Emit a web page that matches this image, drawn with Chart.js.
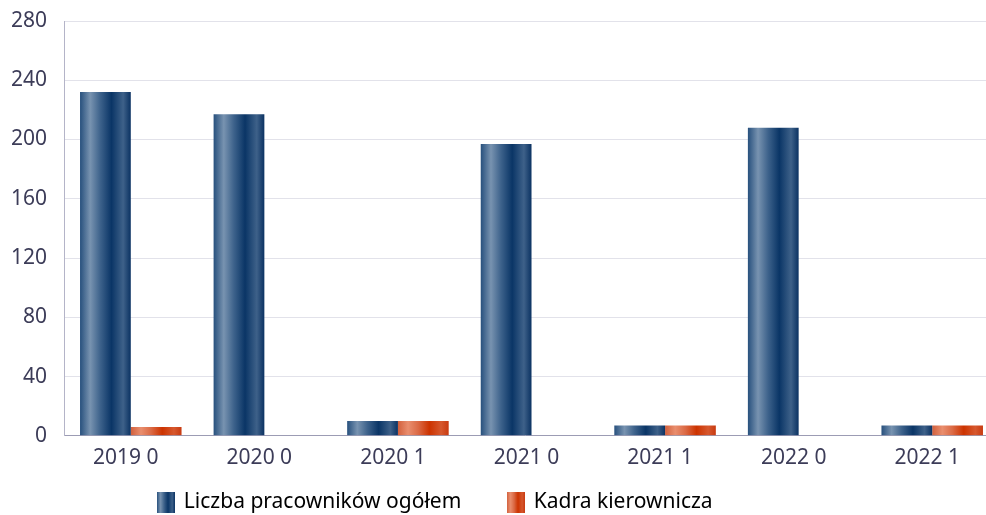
<!DOCTYPE html>
<html>
<head>
<meta charset="utf-8">
<script src="https://cdn.jsdelivr.net/npm/chart.js@4/dist/chart.umd.min.js"></script>
<style>
html,body{margin:0;padding:0;background:#fff;}
#wrap{width:986px;height:515px;position:relative;}
</style>
</head>
<body>
<div id="wrap"><canvas id="c" width="986" height="515"></canvas></div>
<script>
const categories = ["2019 0", "2020 0", "2020 1", "2021 0", "2021 1", "2022 0", "2022 1"];
const seriesNames = ["Liczba pracowników ogółem", "Kadra kierownicza"];
const totalEmployees = [232, 217, 10, 197, 7, 208, 7];
const managers = [6, 0, 10, 0, 7, 0, 7];
const yTicks = [0, 40, 80, 120, 160, 200, 240, 280];

const CAT_PCT = 0.76;
const stopsBlue = [[0,'#27507d'],[0.2,'#7893b0'],[0.4,'#3d628b'],[0.62,'#0a3566'],[0.85,'#3e6189'],[1,'#0b3262']];
const stopsOrange = [[0,'#d2603c'],[0.2,'#e98e6e'],[0.4,'#db6a45'],[0.62,'#cc3300'],[0.85,'#d6582e'],[1,'#c83a10']];
const stopSets = [stopsBlue, stopsOrange];

function makeGrad(ctx, x0, x1, stops){
  const g = ctx.createLinearGradient(x0, 0, x1, 0);
  stops.forEach(s => g.addColorStop(s[0], s[1]));
  return g;
}

function barGradient(context){
  const chart = context.chart;
  const xs = chart.scales.x;
  const stops = stopSets[context.datasetIndex];
  if (!xs || context.dataIndex === undefined) return stops[3][1];
  const n = categories.length;
  const catW = xs.width / n;
  const groupW = catW * CAT_PCT;
  const barW = groupW / 2;
  const center = xs.getPixelForValue(context.dataIndex);
  const left = center - groupW / 2 + context.datasetIndex * barW;
  return makeGrad(chart.ctx, left, left + barW, stops);
}

function legendSwatch(stops){
  const cv = document.createElement('canvas');
  cv.width = 18; cv.height = 21;
  const c = cv.getContext('2d');
  c.fillStyle = makeGrad(c, 0, 18, stops);
  c.fillRect(0, 0, 18, 21);
  return cv;
}
const swatches = [legendSwatch(stopsBlue), legendSwatch(stopsOrange)];

const textColor = '#3c3c58';
const fontFamily = '"Noto Sans", "Open Sans", sans-serif';
const FS = 21;

const layoutTweak = {
  id: 'layoutTweak',
  afterLayout(chart){
    const xs = chart.scales.x;
    if (xs) {
      xs.right += 13;
      xs.width = xs.right - xs.left;
      xs.configure();
      chart.chartArea.right = xs.right;
      chart.chartArea.width = xs.right - chart.chartArea.left;
    }
    const lg = chart.legend;
    if (lg) {
      lg.right -= 115;
      lg.top -= 36;
      lg.bottom -= 36;
    }
  }
};

new Chart(document.getElementById('c'), {
  type: 'bar',
  data: {
    labels: categories,
    datasets: [
      { label: seriesNames[0], data: totalEmployees, backgroundColor: barGradient, borderWidth: 0 },
      { label: seriesNames[1], data: managers, backgroundColor: barGradient, borderWidth: 0 }
    ]
  },
  plugins: [layoutTweak],
  options: {
    responsive: false,
    animation: false,
    datasets: { bar: { categoryPercentage: CAT_PCT, barPercentage: 1 } },
    layout: { padding: { top: 21, right: 0, left: 0, bottom: -44 } },
    scales: {
      x: {
        grid: { display: false, drawTicks: false },
        border: { color: '#9c9cb4', width: 1 },
        ticks: { color: textColor, font: { family: fontFamily, size: FS }, padding: 10, labelOffset: -5, maxRotation: 0, autoSkip: false }
      },
      y: {
        min: 0, max: 280,
        afterBuildTicks: (axis) => { axis.ticks = yTicks.map(v => ({ value: v })); },
        grid: { color: '#e2e2ea', drawTicks: false },
        border: { color: '#b4b4c8', width: 1 },
        ticks: { color: textColor, font: { family: fontFamily, size: FS }, padding: 17 },
        afterFit: (s) => { s.width = 64; s.paddingTop = 0; s.paddingBottom = 0; }
      }
    },
    plugins: {
      tooltip: { enabled: false },
      legend: {
        position: 'bottom',
        labels: {
          usePointStyle: true,
          color: textColor,
          font: { family: fontFamily, size: FS },
          padding: 47,
          boxWidth: 15,
          boxHeight: 20,
          generateLabels: (chart) => seriesNames.map((name, i) => ({
            text: name,
            fillStyle: stopSets[i][3][1],
            strokeStyle: 'transparent',
            lineWidth: 0,
            pointStyle: swatches[i],
            datasetIndex: i,
            hidden: false
          }))
        }
      }
    }
  }
});
</script>
</body>
</html>
